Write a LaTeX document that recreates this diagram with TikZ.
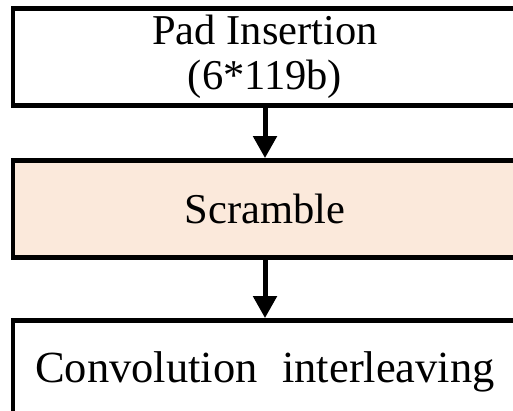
\documentclass[tikz,border=0pt]{standalone}
\usepackage{fontspec}
\setmainfont{Liberation Serif}
\usetikzlibrary{arrows.meta}
\definecolor{peach}{HTML}{FBE9DB}
\tikzset{
  stage/.style={draw=black, line width=4.8pt, rectangle, inner sep=0pt,
    minimum width=504pt, minimum height=97pt, align=center, text=black},
  flow/.style={line width=5pt, draw=black,
    -{Triangle[width=23pt,length=22pt]}}
}
\begin{document}
\begin{tikzpicture}[x=1pt,y=-1pt]
  \useasboundingbox (0,0) rectangle (513,410);
  \clip (0,0) rectangle (513,410);
  % processing stages
  \node[stage, font=\fontsize{42.5}{45}\selectfont] (pad) at (265,57)
    {Pad Insertion\\(6*119b)};
  \node[stage, fill=peach, font=\fontsize{42.5}{41}\selectfont] (scr) at (265,209)
    {Scramble};
  \node[stage, font=\fontsize{44.5}{48}\selectfont, text height=30.4pt, text depth=3pt]
    (conv) at (265,369)
    {Convolution\hspace{0.55em}interleaving};
  % data flow
  \draw[flow] (pad) -- (scr);
  \draw[flow] (scr) -- (conv);
\end{tikzpicture}
\end{document}
